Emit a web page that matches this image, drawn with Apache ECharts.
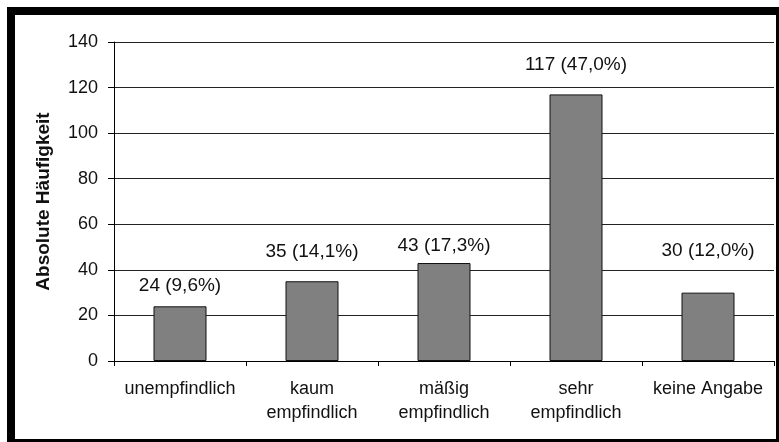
<!DOCTYPE html>
<html>
<head>
<meta charset="utf-8">
<script src="https://cdn.jsdelivr.net/npm/echarts@6/dist/echarts.min.js"></script>
<style>
  html, body { margin: 0; padding: 0; background: #fff; }
  #main { width: 779px; height: 442px; }
</style>
</head>
<body>
<div id="main"></div>
<script>
// Werte
var categories = ['unempfindlich', 'kaum\nempfindlich', 'mäßig\nempfindlich', 'sehr\nempfindlich', 'keine Angabe'];
var counts = [24, 35, 43, 117, 30];
var percents = ['9,6%', '14,1%', '17,3%', '47,0%', '12,0%'];
var yTicks = [0, 20, 40, 60, 80, 100, 120, 140];

// Abstand der Beschriftung zum Balken (im Original von Hand verschoben)
var labelGaps = [11, 20, 8, 20, 32];

var chart = echarts.init(document.getElementById('main'));
var font = '"Liberation Sans", Arial, sans-serif';

var option = {
    animation: false,
    backgroundColor: '#fff',
    textStyle: { fontFamily: font },
    graphic: [
        { type: 'rect', shape: { x: 7, y: 7, width: 772, height: 435 }, style: { fill: '#000' }, z: -10 },
        { type: 'rect', shape: { x: 15, y: 15, width: 761, height: 424 }, style: { fill: '#fff' }, z: -9 }
    ],
    grid: {
        left: 114,
        right: 5,
        top: 42,
        bottom: 81
    },
    xAxis: {
        type: 'category',
        data: categories,
        boundaryGap: true,
        axisLine: { lineStyle: { color: '#000', width: 1 } },
        axisTick: { show: true, length: 5, inside: false, lineStyle: { color: '#000' } },
        axisLabel: {
            interval: 0,
            margin: 16,
            fontSize: 18,
            lineHeight: 24,
            color: '#111',
            fontFamily: font
        }
    },
    yAxis: {
        type: 'value',
        min: yTicks[0],
        max: yTicks[yTicks.length - 1],
        interval: 20,
        name: 'Absolute Häufigkeit',
        nameLocation: 'middle',
        nameGap: 61,
        nameRotate: 90,
        nameTextStyle: {
            fontSize: 19,
            fontWeight: 'bold',
            color: '#111',
            fontFamily: font
        },
        axisLine: { show: true, lineStyle: { color: '#000', width: 1 } },
        axisTick: { show: true, length: 6, lineStyle: { color: '#000' } },
        axisLabel: {
            margin: 16,
            fontSize: 18,
            color: '#111',
            fontFamily: font
        },
        splitLine: { show: true, lineStyle: { color: '#222', width: 1 } }
    },
    series: [
        {
            type: 'bar',
            barWidth: 53,
            data: counts.map(function (v, i) {
                return { value: v, label: { distance: labelGaps[i] } };
            }),
            itemStyle: {
                color: '#808080',
                borderColor: '#111',
                borderWidth: 1
            },
            label: {
                show: true,
                position: 'top',
                fontSize: 19,
                color: '#111',
                fontFamily: font,
                formatter: function (p) {
                    return p.value + ' (' + percents[p.dataIndex] + ')';
                }
            }
        }
    ]
};

chart.setOption(option);
</script>
</body>
</html>
